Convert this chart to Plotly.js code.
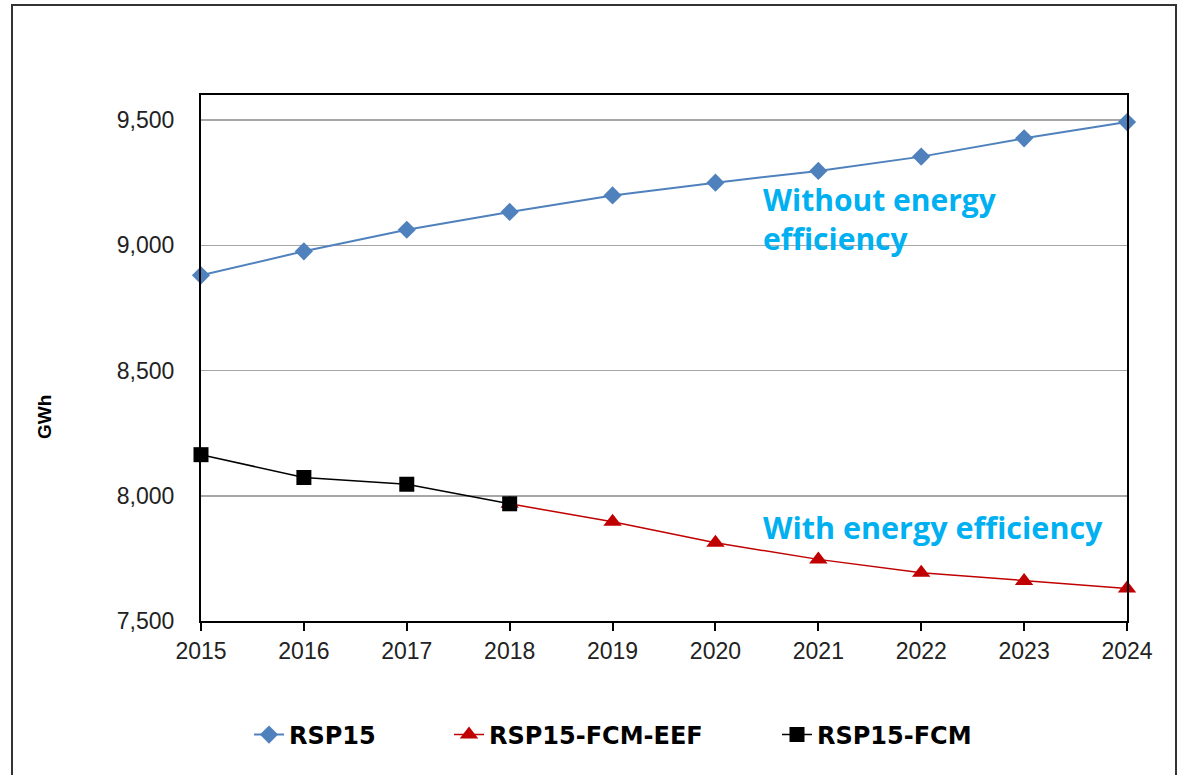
<!DOCTYPE html>
<html>
<head>
<meta charset="utf-8">
<script src="https://cdn.plot.ly/plotly-3.0.1.min.js"></script>
<style>
html,body{margin:0;padding:0;background:#fff;}
#chart{width:1178px;height:775px;}
</style>
</head>
<body>
<div id="chart"></div>
<script>
const years = [2015, 2016, 2017, 2018, 2019, 2020, 2021, 2022, 2023, 2024];
const rsp15 = [8880, 8976, 9062, 9133, 9199, 9250, 9297, 9354, 9427, 9492];
const rsp15FcmEef = [null, null, null, 7968, 7896, 7812, 7746, 7693, 7660, 7630];
const fcmYears = [2015, 2016, 2017, 2018];
const rsp15Fcm = [8164, 8073, 8046, 7968];
const yTicks = [7500, 8000, 8500, 9000, 9500];
const yTickText = ['7,500', '8,000', '8,500', '9,000', '9,500'];
const names = ['RSP15', 'RSP15-FCM-EEF', 'RSP15-FCM'];

const traces = [
  {x: years, y: rsp15, name: names[0], type: 'scatter', mode: 'lines+markers',
   line: {color: '#4F81BD', width: 2}, marker: {symbol: 'diamond', size: 14, color: '#4F81BD'},
   cliponaxis: false, legend: 'legend'},
  {x: years, y: rsp15FcmEef, name: names[1], type: 'scatter', mode: 'lines+markers',
   line: {color: '#C00000', width: 1.5}, marker: {symbol: 'triangle-up', size: 16, color: '#C00000'},
   cliponaxis: false, legend: 'legend2'},
  {x: fcmYears, y: rsp15Fcm, name: names[2], type: 'scatter', mode: 'lines+markers',
   line: {color: '#000000', width: 1.5}, marker: {symbol: 'square', size: 15, color: '#000000'},
   cliponaxis: false, legend: 'legend3'}
];

const legendBase = {orientation: 'h', xref: 'container', yref: 'container', xanchor: 'left', yanchor: 'middle',
  font: {family: 'DejaVu Sans, sans-serif', size: 24, color: '#000', weight: 'bold'},
  bgcolor: 'rgba(0,0,0,0)', borderwidth: 0};

const tickFont = {family: 'Liberation Sans, Arial, sans-serif', size: 23, color: '#222'};

const layout = {
  width: 1178, height: 775,
  margin: {l: 201, r: 51, t: 95, b: 154},
  paper_bgcolor: '#fff', plot_bgcolor: '#fff',
  showlegend: true,
  legend: Object.assign({}, legendBase, {x: 249/1178, y: 40/775}),
  legend2: Object.assign({}, legendBase, {x: 449/1178, y: 40/775}),
  legend3: Object.assign({}, legendBase, {x: 777/1178, y: 40/775}),
  xaxis: {
    range: [2015, 2024], tickvals: years, ticktext: years.map(String),
    showgrid: false, zeroline: false,
    showline: true, linecolor: '#000', linewidth: 2, mirror: true,
    ticks: 'outside', ticklen: 8, tickwidth: 2, tickcolor: '#000',
    tickfont: tickFont
  },
  yaxis: {
    range: [7500, 9600], tickvals: yTicks, ticktext: yTickText,
    showgrid: true, gridcolor: '#A6A6A6', gridwidth: 1.5, zeroline: false,
    showline: true, linecolor: '#000', linewidth: 2, mirror: true,
    ticks: '', ticklabelstandoff: 20,
    tickfont: tickFont
  },
  annotations: [
    {text: 'Without energy<br>efficiency', xref: 'paper', yref: 'paper', x: (761-201)/926, y: (621-219)/526,
     xanchor: 'left', yanchor: 'middle', align: 'left', showarrow: false,
     font: {family: 'Open Sans, sans-serif', size: 30, color: '#00B0F0', weight: 'bold'}},
    {text: 'With energy efficiency', xref: 'paper', yref: 'paper', x: (761-201)/926, y: (621-527)/526,
     xanchor: 'left', yanchor: 'middle', align: 'left', showarrow: false,
     font: {family: 'Open Sans, sans-serif', size: 30.5, color: '#00B0F0', weight: 'bold'}},
    {text: 'GWh', xref: 'paper', yref: 'paper', x: (44-201)/926, y: (621-417)/526,
     xanchor: 'center', yanchor: 'middle', textangle: -90, showarrow: false,
     font: {family: 'Liberation Sans, Arial, sans-serif', size: 19, color: '#000', weight: 'bold'}}
  ],
  shapes: [
    {type: 'rect', xref: 'paper', yref: 'paper',
     x0: (12-201)/926, x1: (1176-201)/926, y0: (621-780)/526, y1: (621-5)/526,
     line: {color: '#333', width: 2}, fillcolor: 'rgba(0,0,0,0)', layer: 'below'}
  ]
};

Plotly.newPlot('chart', traces, layout, {displayModeBar: false, staticPlot: true});
</script>
</body>
</html>
